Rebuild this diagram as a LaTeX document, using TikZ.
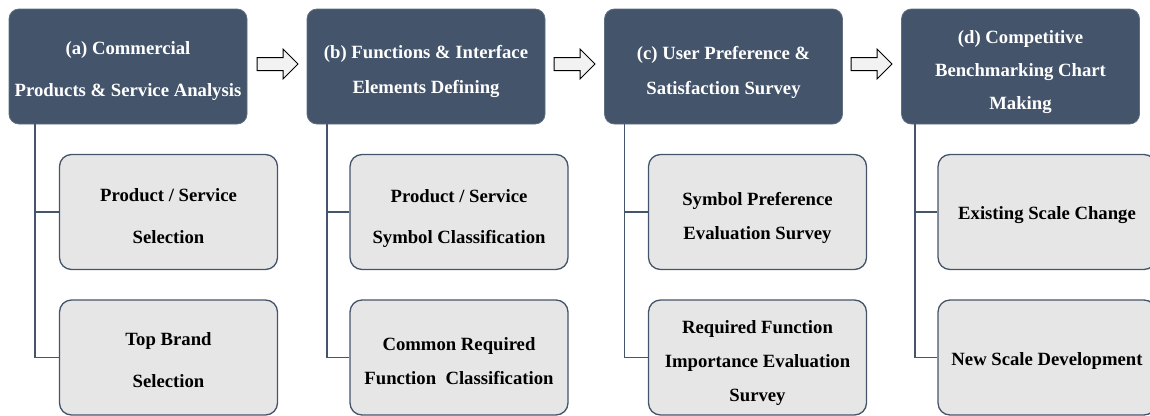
\documentclass[tikz,border=0pt]{standalone}
\usepackage{fontspec}
\setmainfont{Liberation Serif}
\definecolor{slate}{HTML}{44546A}
\definecolor{boxgray}{HTML}{E7E6E6}
\definecolor{arrowgray}{HTML}{F2F2F2}
\begin{document}
\begin{tikzpicture}[x=1pt,y=-1pt,
  headbox/.style={fill=slate, draw=slate!85!white, line width=0.8pt, rounded corners=10pt,
    minimum width=238pt, minimum height=115pt, inner sep=0pt},
  taskbox/.style={fill=boxgray, draw=slate, line width=1.3pt, rounded corners=12pt,
    minimum width=218pt, minimum height=115pt, inner sep=0pt},
  headtext/.style={align=center, inner sep=0pt, text=white,
    font=\bfseries\fontsize{18.7}{#1}\selectfont},
  tasktext/.style={align=center, inner sep=0pt, text=black,
    font=\bfseries\fontsize{18.7}{#1}\selectfont},
  conn/.style={draw=slate, line width=1.4pt},
  blockarrow/.style={draw=black, fill=arrowgray, line width=1pt, line join=miter}]
\useasboundingbox (0,0) rectangle (1150,415);
\begin{scope}
\clip (0,0) rectangle (1150,415);

% stage headers
\node[headbox, label={[headtext=42, yshift=-5pt]center:{(a) Commercial\\Products \& Service Analysis}}] (ha) at (128,66.5) {};
\node[headbox, label={[headtext=35, yshift=-5pt]center:{(b) Functions \& Interface\\Elements Defining}}] (hb) at (426,66.5) {};
\node[headbox, label={[headtext=35, yshift=-6pt]center:{(c) User Preference \&\\Satisfaction Survey}}] (hc) at (723.5,66.5) {};
\node[headbox, label={[headtext=33, yshift=-6pt]center:{(d) Competitive\\Benchmarking Chart\\Making}}] (hd) at (1020.5,66.5) {};

% sub-tasks
\node[taskbox, label={[tasktext=42, yshift=-4pt]center:{Product / Service\\Selection}}] (a1) at (168.5,212) {};
\node[taskbox, label={[tasktext=42, yshift=-3pt]center:{Top Brand\\Selection}}] (a2) at (168.5,357.5) {};
\node[taskbox, label={[tasktext=41, yshift=-7pt]center:{Product / Service\\Symbol Classification}}] (b1) at (459,212) {};
\node[taskbox, label={[tasktext=34, yshift=-4pt]center:{Common Required\\Function\ \ Classification}}] (b2) at (459,357.5) {};
\node[taskbox, label={[tasktext=34, yshift=-6pt]center:{Symbol Preference\\Evaluation Survey}}] (c1) at (757.5,212) {};
\node[taskbox, label={[tasktext=34, yshift=-6pt]center:{Required Function\\Importance Evaluation\\Survey}}] (c2) at (757.5,357.5) {};
\node[taskbox, label={[tasktext=34, yshift=-3pt]center:{Existing Scale Change}}] (d1) at (1047,212) {};
\node[taskbox, label={[tasktext=34, yshift=-3pt]center:{New Scale Development}}] (d2) at (1047,357.5) {};

% tree connectors
\coordinate (ta) at (35,124);
\coordinate (tb) at (327,124);
\coordinate (tc) at (624.5,124);
\coordinate (td) at (915,124);
\foreach \t/\u/\v in {ta/a1/a2, tb/b1/b2, tc/c1/c2, td/d1/d2}{
  \draw[conn] (\t) |- (\u.west);
  \draw[conn] (\t) |- (\v.west);
}

% block arrows between stages
\foreach \x in {257,554,851}{
  \draw[blockarrow] (\x,57.5) -- (\x+26,57.5) -- (\x+26,49) -- (\x+41,64) --
    (\x+26,79) -- (\x+26,70.5) -- (\x,70.5) -- cycle;
}
\end{scope}
\end{tikzpicture}
\end{document}
